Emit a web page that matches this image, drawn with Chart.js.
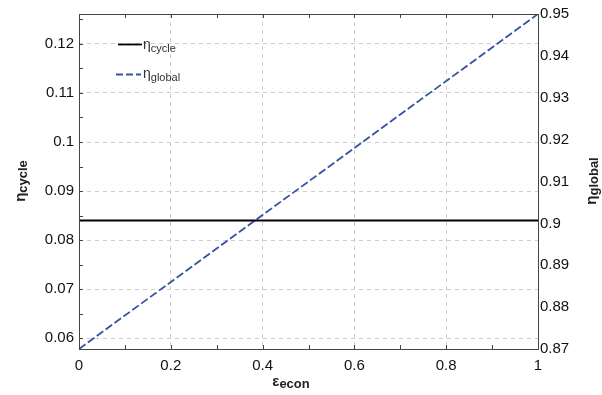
<!DOCTYPE html>
<html>
<head>
<meta charset="utf-8">
<script src="https://cdn.jsdelivr.net/npm/chart.js@4.4.0/dist/chart.umd.min.js"></script>
<style>
  html, body { margin: 0; padding: 0; background: #fff; }
  #wrap { position: relative; width: 602px; height: 395px; }
</style>
</head>
<body>
<div id="wrap"><canvas id="c" width="602" height="395"></canvas></div>
<script>
// values
const epsEcon = [0, 1];
const etaCycle = [0.084, 0.084];
const etaGlobal = [0.870, 0.950];

const xTicks = [0, 0.2, 0.4, 0.6, 0.8, 1];
const leftTicks = [0.06, 0.07, 0.08, 0.09, 0.1, 0.11, 0.12];
const rightTicks = [0.87, 0.88, 0.89, 0.9, 0.91, 0.92, 0.93, 0.94, 0.95];

const FONT = 'Liberation Sans, Arial, sans-serif';
const fmt = v => String(+(+v).toFixed(3));

// frame, inward tick marks, axis titles, legend
const decor = {
  id: 'decor',
  afterDraw(chart) {
    const ctx = chart.ctx;
    const a = chart.chartArea;
    const x = chart.scales.x, y = chart.scales.y;
    ctx.save();
    ctx.strokeStyle = '#444';
    ctx.lineWidth = 1;
    ctx.beginPath();
    // x ticks, major + minor, top and bottom
    for (let v = 0; v <= 1.0001; v += 0.1) {
      const px = Math.round(x.getPixelForValue(v)) + 0.5;
      ctx.moveTo(px, a.bottom); ctx.lineTo(px, a.bottom - 4);
      ctx.moveTo(px, a.top); ctx.lineTo(px, a.top + 4);
    }
    // left ticks, major + minor
    for (let v = 0.06; v <= 0.1251; v += 0.005) {
      const py = Math.round(y.getPixelForValue(v)) + 0.5;
      ctx.moveTo(a.left, py); ctx.lineTo(a.left + 4, py);
    }
    ctx.stroke();
    ctx.strokeRect(Math.round(a.left) + 0.5, Math.round(a.top) + 0.5,
      Math.round(a.right - a.left), Math.round(a.bottom - a.top));

    // axis titles
    ctx.fillStyle = '#222';
    const sub = (cx, cy, big, small, bold) => {
      ctx.font = (bold ? 'bold ' : '') + '15px ' + FONT;
      const w1 = ctx.measureText(big).width;
      ctx.font = (bold ? 'bold ' : '') + '13px ' + FONT;
      const w2 = ctx.measureText(small).width;
      const sx = cx - (w1 + w2) / 2;
      ctx.textBaseline = 'alphabetic';
      ctx.textAlign = 'left';
      ctx.font = (bold ? 'bold ' : '') + '15px ' + FONT;
      ctx.fillText(big, sx, cy);
      ctx.font = (bold ? 'bold ' : '') + '13px ' + FONT;
      ctx.fillText(small, sx + w1, cy + 2);
    };
    sub(291, 386, 'ε', 'econ', true);
    ctx.save(); ctx.translate(25, 181); ctx.rotate(-Math.PI / 2);
    sub(0, 0, 'η', 'cycle', true); ctx.restore();
    ctx.save(); ctx.translate(596, 181); ctx.rotate(-Math.PI / 2);
    sub(0, 0, 'η', 'global', true); ctx.restore();

    // legend
    ctx.lineWidth = 1.8;
    ctx.strokeStyle = '#000';
    ctx.setLineDash([]);
    ctx.beginPath(); ctx.moveTo(118, 44.5); ctx.lineTo(142, 44.5); ctx.stroke();
    ctx.strokeStyle = '#3552a3';
    ctx.setLineDash([7, 3]);
    ctx.beginPath(); ctx.moveTo(116, 74.5); ctx.lineTo(141, 74.5); ctx.stroke();
    ctx.setLineDash([]);
    ctx.fillStyle = '#333';
    const leg = (lx, ly, big, small) => {
      ctx.font = '14px ' + FONT;
      ctx.fillText(big, lx, ly);
      const w = ctx.measureText(big).width;
      ctx.font = '11px ' + FONT;
      ctx.fillText(small, lx + w, ly + 3);
    };
    leg(143, 49, 'η', 'cycle');
    leg(143, 78, 'η', 'global');
    ctx.restore();
  }
};

new Chart(document.getElementById('c'), {
  type: 'line',
  data: {
    datasets: [
      {
        label: 'ηcycle',
        data: epsEcon.map((e, i) => ({ x: e, y: etaCycle[i] })),
        yAxisID: 'y',
        borderColor: '#000',
        borderWidth: 1.8,
        pointRadius: 0,
        fill: false
      },
      {
        label: 'ηglobal',
        data: epsEcon.map((e, i) => ({ x: e, y: etaGlobal[i] })),
        yAxisID: 'y2',
        borderColor: '#3552a3',
        borderDash: [8, 3],
        borderWidth: 1.8,
        pointRadius: 0,
        fill: false
      }
    ]
  },
  options: {
    responsive: false,
    animation: false,
    devicePixelRatio: 1,
    layout: { padding: { top: 13, left: 0, right: 0, bottom: 0 } },
    plugins: { legend: { display: false }, tooltip: { enabled: false } },
    scales: {
      x: {
        type: 'linear', min: 0, max: 1,
        afterBuildTicks: s => { s.ticks = xTicks.map(v => ({ value: v })); },
        afterFit: s => { s.height = 46; },
        grid: { color: '#cfcfcf', drawTicks: false },
        border: { display: false, dash: [4, 4] },
        ticks: { color: '#111', padding: 8, font: { size: 15, family: FONT }, callback: fmt, maxRotation: 0 }
      },
      y: {
        type: 'linear', position: 'left', min: 0.0578, max: 0.1261,
        afterBuildTicks: s => { s.ticks = leftTicks.map(v => ({ value: v })); },
        afterFit: s => { s.width = 79; },
        grid: { color: '#cfcfcf', drawTicks: false },
        border: { display: false, dash: [4, 4] },
        ticks: { color: '#111', padding: 5, font: { size: 15, family: FONT }, callback: fmt }
      },
      y2: {
        type: 'linear', position: 'right', min: 0.87, max: 0.95,
        afterBuildTicks: s => { s.ticks = rightTicks.map(v => ({ value: v })); },
        afterFit: s => { s.width = 64; },
        grid: { display: false, drawTicks: false },
        border: { display: false },
        ticks: { color: '#111', padding: 2, font: { size: 15, family: FONT }, callback: fmt }
      }
    }
  },
  plugins: [decor]
});
</script>
</body>
</html>
